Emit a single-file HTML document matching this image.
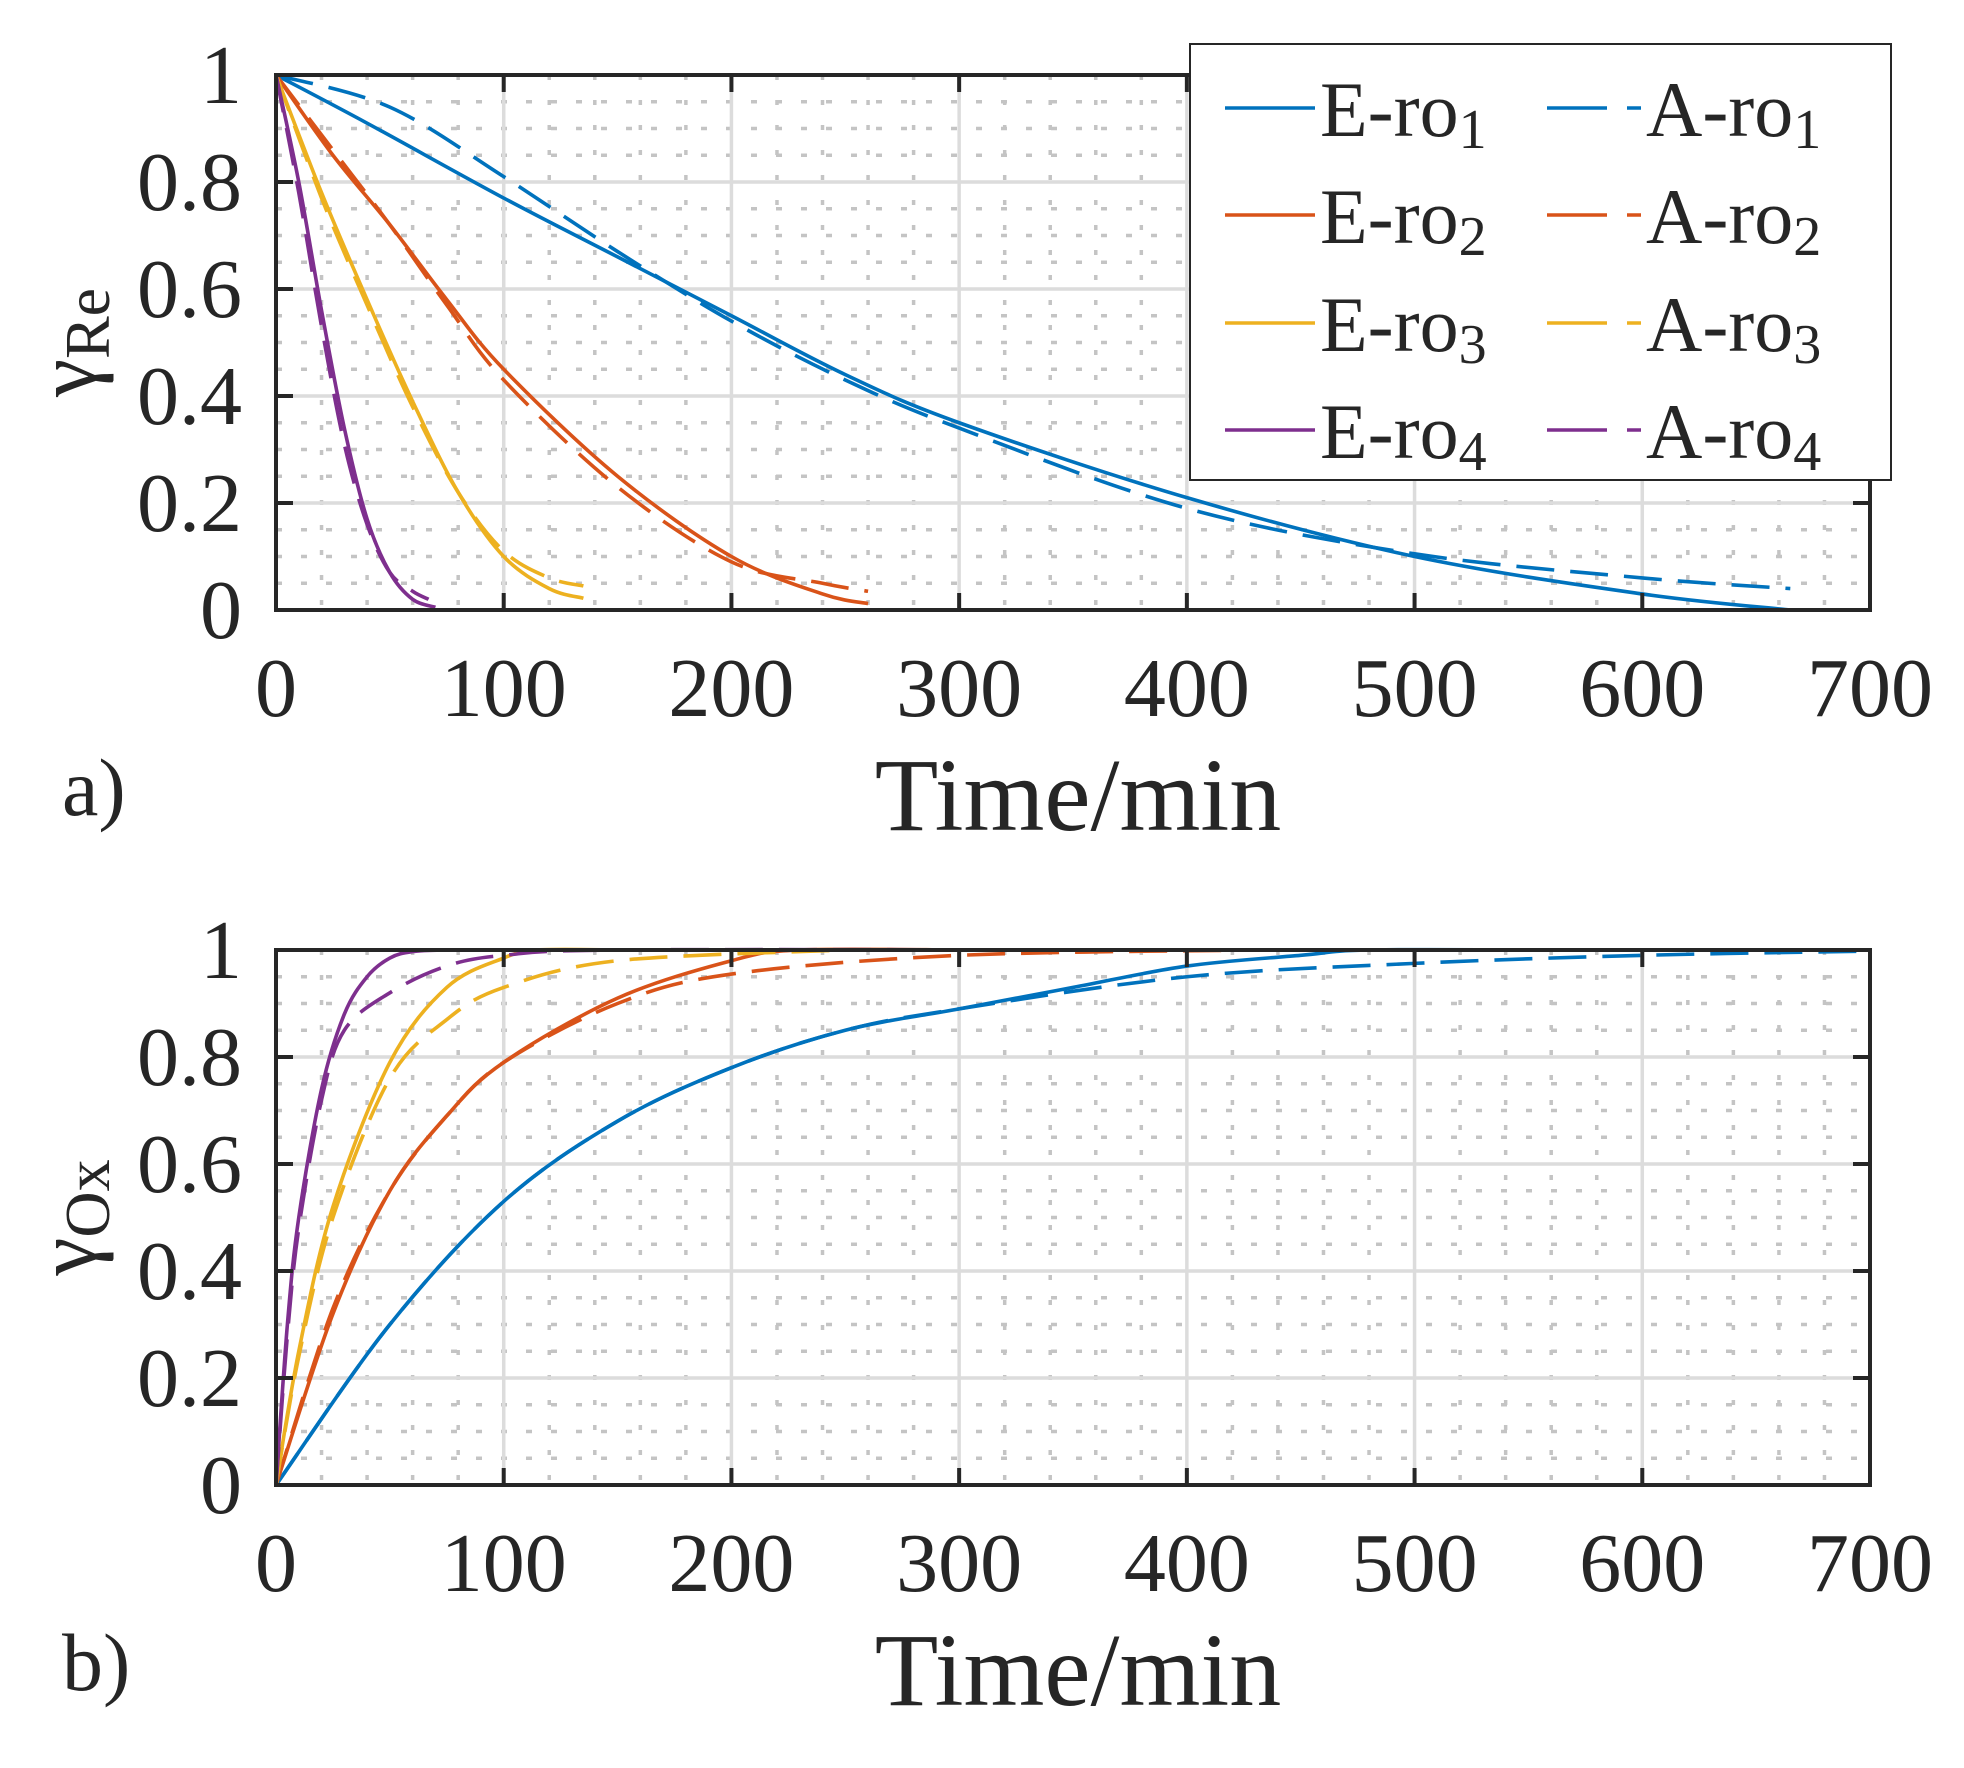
<!DOCTYPE html>
<html><head><meta charset="utf-8"><style>
html,body{margin:0;padding:0;background:#fff;}
svg{display:block;}
text{font-family:"Liberation Serif",serif;fill:#262626;}
</style></head><body>
<svg id="s" width="1964" height="1768" viewBox="0 0 1964 1768" xmlns="http://www.w3.org/2000/svg"></svg>
<script>
const NS="http://www.w3.org/2000/svg";
const s=document.getElementById('s');
function el(t,a,txt){const e=document.createElementNS(NS,t);for(const k in a)e.setAttribute(k,a[k]);if(txt!==undefined)e.textContent=txt;s.appendChild(e);return e;}
const X0=276,X1=1870;
const xs=t=>X0+(X1-X0)*t/700;
const C=["#0072BD","#D95319","#EDB120","#7E2F8E"];
function panel(top,bot,lab,ylab,series){
  const ys=v=>bot-(bot-top)*v;
  for(let t=20;t<700;t+=20){if(t%100)el('line',{x1:xs(t),x2:xs(t),y1:top,y2:bot,stroke:'#c4c4c4','stroke-width':3.5,'stroke-dasharray':'5 20'});}
  for(let v=0.05;v<1;v+=0.05){const r=Math.round(v*100);if(r%20)el('line',{x1:X0,x2:X1,y1:ys(v),y2:ys(v),stroke:'#c4c4c4','stroke-width':3.5,'stroke-dasharray':'6 19'});}
  for(let t=100;t<700;t+=100)el('line',{x1:xs(t),x2:xs(t),y1:top,y2:bot,stroke:'#dcdcdc','stroke-width':3.5});
  for(let v=0.2;v<0.99;v+=0.2)el('line',{x1:X0,x2:X1,y1:ys(v),y2:ys(v),stroke:'#dcdcdc','stroke-width':3.5});
  series.forEach((sr,i)=>{
    const p=sr.pts;
    const P=p.map(q=>[xs(q[0]),ys(q[1])]);
    let d='M'+P[0][0]+' '+P[0][1];
    for(let k=0;k<P.length-1;k++){
      const a=P[Math.max(0,k-1)],b=P[k],c=P[k+1],e=P[Math.min(P.length-1,k+2)];
      const c1=[b[0]+(c[0]-a[0])/6,b[1]+(c[1]-a[1])/6],c2=[c[0]-(e[0]-b[0])/6,c[1]-(e[1]-b[1])/6];
      d+=` C${c1[0]} ${c1[1]} ${c2[0]} ${c2[1]} ${c[0]} ${c[1]}`;
    }
    const a={d:d,fill:'none',stroke:C[sr.c],'stroke-width':3.6};
    if(sr.dash)a['stroke-dasharray']='38 16';
    el('path',a);
  });
  el('rect',{x:X0,y:top,width:X1-X0,height:bot-top,fill:'none',stroke:'#262626','stroke-width':4});
  for(let t=100;t<700;t+=100){el('line',{x1:xs(t),x2:xs(t),y1:bot,y2:bot-17,stroke:'#262626','stroke-width':4});el('line',{x1:xs(t),x2:xs(t),y1:top,y2:top+17,stroke:'#262626','stroke-width':4});}
  for(let v=0.2;v<0.99;v+=0.2){el('line',{x1:X0,x2:X0+17,y1:ys(v),y2:ys(v),stroke:'#262626','stroke-width':4});el('line',{x1:X1,x2:X1-17,y1:ys(v),y2:ys(v),stroke:'#262626','stroke-width':4});}
  ['0','0.2','0.4','0.6','0.8','1'].forEach((t,i)=>el('text',{x:242,y:ys(i*0.2)+28,'font-size':84,'text-anchor':'end'},t));
  for(let t=0;t<=700;t+=100)el('text',{x:xs(t),y:bot+106,'font-size':84,'text-anchor':'middle'},String(t));
  el('text',{x:1078,y:bot+220,'font-size':104,'text-anchor':'middle'},'Time/min');
  el('text',{x:62,y:bot+205,'font-size':82},lab);
  const g=el('text',{transform:`translate(95 ${(top+bot)/2}) rotate(-90)`,'font-size':86,'text-anchor':'middle'});
  g.innerHTML='γ<tspan font-size="64" dy="14">'+ylab+'</tspan>';
}
const A=[
 {c:0,pts:[[0,1],[40,0.91],[100,0.77],[150,0.66],[200,0.55],[250,0.44],[300,0.35],[400,0.21],[500,0.10],[600,0.03],[665,0]]},
 {c:0,dash:1,pts:[[0,1],[50,0.94],[100,0.81],[150,0.67],[200,0.54],[250,0.43],[300,0.34],[400,0.19],[500,0.105],[600,0.06],[665,0.04]]},
 {c:1,pts:[[0,1],[25,0.85],[50,0.72],[75,0.58],[100,0.45],[150,0.25],[200,0.10],[240,0.03],[260,0.012]]},
 {c:1,dash:1,pts:[[0,1],[25,0.86],[50,0.72],[75,0.57],[100,0.43],[150,0.23],[200,0.09],[240,0.05],[260,0.035]]},
 {c:2,pts:[[0,1],[20,0.78],[40,0.58],[60,0.39],[80,0.22],[100,0.10],[120,0.04],[135,0.022]]},
 {c:2,dash:1,pts:[[0,1],[20,0.77],[40,0.57],[60,0.38],[80,0.22],[100,0.11],[120,0.06],[135,0.045]]},
 {c:3,pts:[[0,1],[10,0.80],[20,0.56],[30,0.34],[40,0.17],[50,0.07],[60,0.02],[70,0.005]]},
 {c:3,dash:1,pts:[[0,1],[10,0.78],[20,0.53],[30,0.31],[40,0.16],[50,0.07],[60,0.035],[67,0.02]]}
];
const B=[
 {c:0,pts:[[0,0],[50,0.3],[100,0.53],[150,0.68],[200,0.78],[250,0.85],[300,0.89],[350,0.93],[400,0.97],[450,0.99],[480,1],[560,1]]},
 {c:0,dash:1,pts:[[0,0],[50,0.3],[100,0.53],[150,0.68],[200,0.78],[250,0.85],[300,0.89],[400,0.95],[500,0.975],[600,0.99],[700,0.998]]},
 {c:1,pts:[[0,0],[25,0.32],[50,0.55],[75,0.69],[100,0.79],[150,0.91],[200,0.98],[230,1],[300,1]]},
 {c:1,dash:1,pts:[[0,0],[25,0.33],[50,0.55],[75,0.69],[100,0.79],[150,0.9],[200,0.955],[300,0.99],[430,1]]},
 {c:2,pts:[[0,0],[10,0.25],[25,0.52],[50,0.79],[75,0.93],[100,0.985],[115,1],[150,1]]},
 {c:2,dash:1,pts:[[0,0],[10,0.24],[25,0.5],[50,0.76],[75,0.87],[100,0.93],[150,0.98],[250,1]]},
 {c:3,pts:[[0,0],[5,0.3],[10,0.5],[20,0.74],[30,0.88],[40,0.95],[50,0.985],[60,0.997],[75,1],[100,1]]},
 {c:3,dash:1,pts:[[0,0],[5,0.28],[10,0.48],[20,0.72],[30,0.85],[50,0.92],[75,0.97],[100,0.99],[150,1],[350,1]]}
];
panel(75,610,'a)','Re',A);
panel(950,1485,'b)','Ox',B);
el('rect',{x:1190,y:44,width:701,height:436,fill:'#fff',stroke:'#262626','stroke-width':2});
const rows=[118,225,333,440];
rows.forEach((y,i)=>{
  const yy=y-10;
  el('line',{x1:1225,x2:1315,y1:yy,y2:yy,stroke:C[i],'stroke-width':3.6});
  el('line',{x1:1547,x2:1641,y1:yy,y2:yy,stroke:C[i],'stroke-width':3.6,'stroke-dasharray':'60 20'});
  const t1=el('text',{x:1320,y:y+18,'font-size':78});t1.innerHTML='E-ro<tspan font-size="56" dy="12">'+(i+1)+'</tspan>';
  const t2=el('text',{x:1646,y:y+18,'font-size':78});t2.innerHTML='A-ro<tspan font-size="56" dy="12">'+(i+1)+'</tspan>';
});
</script>
</body></html>
